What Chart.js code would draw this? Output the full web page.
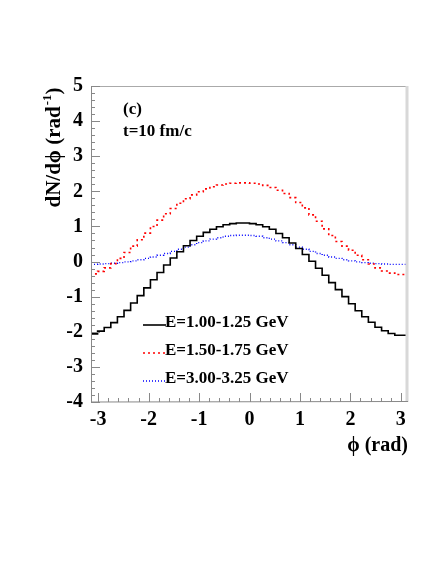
<!DOCTYPE html>
<html>
<head>
<meta charset="utf-8">
<script src="https://cdn.jsdelivr.net/npm/chart.js@4.4.0/dist/chart.umd.min.js"></script>
<style>
  body { margin: 0; background: #fff; }
  canvas { display: block; }
</style>
</head>
<body>
<canvas id="chart" width="436" height="564"></canvas>
<script>
// histogram binning: 48 bins over -pi..pi
const nBins = 48;
const phiMin = -Math.PI;
const phiMax = Math.PI;

const xTicks = [-3, -2, -1, 0, 1, 2, 3];
const yTicks = [5, 4, 3, 2, 1, 0, -1, -2, -3, -4];
const seriesLabels = ['E=1.00-1.25 GeV', 'E=1.50-1.75 GeV', 'E=3.00-3.25 GeV'];

// dN/dphi per bin
const lowE = [-2.10, -2.06, -1.98, -1.88, -1.74, -1.57, -1.39, -1.18, -0.97, -0.75, -0.52, -0.31,
  -0.10, 0.10, 0.28, 0.45, 0.60, 0.72, 0.83, 0.92, 0.99, 1.05, 1.08, 1.10,
  1.10, 1.08, 1.05, 0.99, 0.92, 0.80, 0.68, 0.53, 0.37, 0.20, 0.01, -0.19,
  -0.39, -0.60, -0.80, -1.00, -1.20, -1.40, -1.57, -1.73, -1.87, -1.97, -2.05, -2.10];
const midE = [-0.38, -0.35, -0.28, -0.18, -0.06, 0.09, 0.26, 0.44, 0.62, 0.81, 1.00, 1.18,
  1.36, 1.51, 1.66, 1.79, 1.90, 1.99, 2.07, 2.13, 2.18, 2.21, 2.23, 2.24,
  2.24, 2.23, 2.21, 2.17, 2.11, 2.03, 1.94, 1.82, 1.68, 1.53, 1.33, 1.15,
  0.93, 0.74, 0.57, 0.44, 0.32, 0.18, 0.05, -0.07, -0.18, -0.27, -0.33, -0.37];
const highE = [-0.08, -0.08, -0.07, -0.06, -0.05, -0.03, -0.01, 0.02, 0.05, 0.09, 0.13, 0.18,
  0.23, 0.29, 0.35, 0.41, 0.48, 0.54, 0.59, 0.64, 0.68, 0.72, 0.74, 0.75,
  0.75, 0.74, 0.72, 0.68, 0.64, 0.59, 0.54, 0.48, 0.41, 0.35, 0.29, 0.23,
  0.18, 0.13, 0.09, 0.05, 0.02, -0.01, -0.03, -0.05, -0.06, -0.07, -0.08, -0.08];

// turn bin contents into step points (left edges + last right edge)
function histPoints(vals, withEdges) {
  const w = (phiMax - phiMin) / nBins;
  const pts = vals.map((v, i) => ({ x: phiMin + i * w, y: v }));
  pts.push({ x: phiMax, y: vals[vals.length - 1] });
  if (withEdges) {
    pts.unshift({ x: phiMin, y: 0 });
    pts.push({ x: phiMax, y: 0 });
  }
  return pts;
}

const serif = "'Liberation Serif', 'Times New Roman', serif";

const overlay = {
  id: 'overlay',
  afterDatasetsDraw(chart) {
    const ctx = chart.ctx;
    const a = chart.chartArea;
    const xs = chart.scales.x, ys = chart.scales.y;
    ctx.save();

    // frame
    ctx.lineWidth = 1;
    ctx.strokeStyle = '#aaa';
    ctx.beginPath();
    ctx.moveTo(a.left, a.top + 0.5);
    ctx.lineTo(a.right, a.top + 0.5);
    ctx.stroke();
    ctx.strokeStyle = '#d8d8d8';
    ctx.lineWidth = 3;
    ctx.beginPath();
    ctx.moveTo(a.right - 1, a.top);
    ctx.lineTo(a.right - 1, a.bottom);
    ctx.stroke();
    ctx.lineWidth = 1;
    ctx.strokeStyle = '#888';
    ctx.beginPath();
    ctx.moveTo(a.left + 0.5, a.top);
    ctx.lineTo(a.left + 0.5, a.bottom);
    ctx.lineTo(a.right, a.bottom - 0.5);
    ctx.stroke();

    // inward ticks
    ctx.strokeStyle = '#888';
    ctx.beginPath();
    for (let k = Math.ceil(ys.min * 5); k <= ys.max * 5; k++) {
      const y = Math.round(ys.getPixelForValue(k / 5)) + 0.5;
      const len = k % 5 === 0 ? 9 : 4;
      ctx.moveTo(a.left, y);
      ctx.lineTo(a.left + len, y);
    }
    for (let k = Math.ceil(xs.min * 5); k <= xs.max * 5; k++) {
      const x = Math.round(xs.getPixelForValue(k / 5)) + 0.5;
      const len = k % 5 === 0 ? 9 : 4;
      ctx.moveTo(x, a.bottom);
      ctx.lineTo(x, a.bottom - len);
    }
    ctx.stroke();

    // panel labels
    ctx.fillStyle = '#000';
    ctx.font = 'bold 17px ' + serif;
    ctx.textBaseline = 'alphabetic';
    ctx.textAlign = 'left';
    ctx.fillText('(c)', 123, 114);
    ctx.fillText('t=10 fm/c', 123, 136);

    // legend
    const ds = chart.data.datasets;
    const rows = [327, 355, 383];
    seriesLabels.forEach((lab, i) => {
      const d = ds[i];
      ctx.strokeStyle = d.borderColor;
      ctx.lineWidth = d.borderWidth;
      ctx.setLineDash(d.borderDash || []);
      ctx.beginPath();
      ctx.moveTo(143, rows[i] - 2);
      ctx.lineTo(166, rows[i] - 2);
      ctx.stroke();
      ctx.setLineDash([]);
      ctx.fillText(lab, 165, rows[i]);
    });

    // axis titles
    ctx.font = 'bold 20px ' + serif;
    ctx.textAlign = 'right';
    ctx.fillText('\u03d5 (rad)', 408, 451);

    ctx.translate(60, 148);
    ctx.rotate(-Math.PI / 2);
    const main = 'dN/d\u03d5 (rad';
    const sup = '-1';
    ctx.font = 'bold 21px ' + serif;
    const w1 = ctx.measureText(main).width;
    ctx.font = 'bold 13px ' + serif;
    const w2 = ctx.measureText(sup).width;
    ctx.font = 'bold 21px ' + serif;
    const w3 = ctx.measureText(')').width;
    let x0 = -(w1 + w2 + w3) / 2;
    ctx.textAlign = 'left';
    ctx.fillText(main, x0, 0);
    ctx.font = 'bold 13px ' + serif;
    ctx.fillText(sup, x0 + w1 + 1, -9);
    ctx.font = 'bold 21px ' + serif;
    ctx.fillText(')', x0 + w1 + w2 + 1, 0);
    ctx.restore();
  }
};

new Chart(document.getElementById('chart'), {
  type: 'line',
  data: {
    datasets: [
      {
        label: seriesLabels[0],
        data: histPoints(lowE, true),
        borderColor: '#000',
        borderWidth: 1.6,
        stepped: 'after',
        pointRadius: 0
      },
      {
        label: seriesLabels[1],
        data: histPoints(midE, false),
        borderColor: '#ff0000',
        borderWidth: 1.6,
        borderDash: [2, 3],
        stepped: 'after',
        pointRadius: 0
      },
      {
        label: seriesLabels[2],
        data: histPoints(highE, false),
        borderColor: '#0000ff',
        borderWidth: 1.4,
        borderDash: [1, 2],
        stepped: 'after',
        pointRadius: 0
      }
    ]
  },
  options: {
    responsive: false,
    animation: false,
    devicePixelRatio: 1,
    layout: { padding: { left: 0, right: 28, top: 86, bottom: 0 } },
    plugins: { legend: { display: false }, tooltip: { enabled: false } },
    scales: {
      x: {
        type: 'linear',
        min: phiMin,
        max: phiMax,
        afterBuildTicks: (s) => { s.ticks = xTicks.map(v => ({ value: v })); },
        afterFit: (s) => { s.height = 162; },
        grid: { display: false, drawTicks: false },
        border: { display: false },
        ticks: {
          padding: 6,
          color: '#000',
          font: { family: serif, size: 20, weight: 'bold' },
          maxRotation: 0
        }
      },
      y: {
        type: 'linear',
        min: -4,
        max: 5,
        afterBuildTicks: (s) => { s.ticks = yTicks.map(v => ({ value: v })); },
        afterFit: (s) => { s.width = 91; },
        grid: { display: false, drawTicks: false },
        border: { display: false },
        ticks: {
          padding: 8,
          color: '#000',
          font: { family: serif, size: 20, weight: 'bold' }
        }
      }
    }
  },
  plugins: [overlay]
});
</script>
</body>
</html>
